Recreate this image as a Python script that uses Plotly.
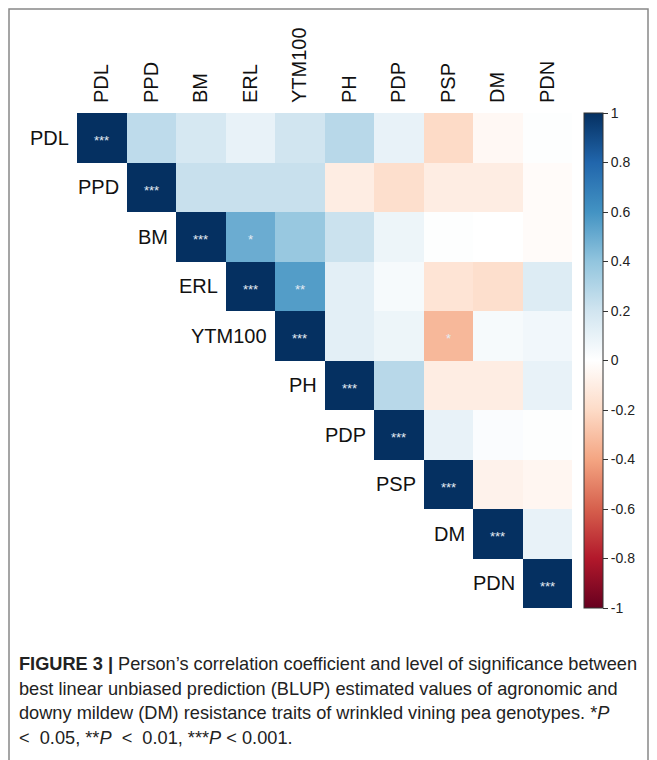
import plotly.graph_objs as go

traits = ['PDL', 'PPD', 'BM', 'ERL', 'YTM100', 'PH', 'PDP', 'PSP', 'DM', 'PDN']

# upper-triangle correlations, row by row (diagonal = 1)
r_pdl = [1, 0.26, 0.18, 0.10, 0.20, 0.28, 0.10, -0.20, -0.04, 0.01]
r_ppd = [1, 0.23, 0.23, 0.23, -0.10, -0.18, -0.10, -0.10, -0.02]
r_bm = [1, 0.50, 0.38, 0.22, 0.08, 0.01, 0.00, -0.02]
r_erl = [1, 0.56, 0.12, 0.04, -0.15, -0.18, 0.15]
r_ytm = [1, 0.12, 0.08, -0.33, 0.04, 0.06]
r_ph = [1, 0.28, -0.10, -0.10, 0.10]
r_pdp = [1, 0.10, 0.02, 0.01]
r_psp = [1, -0.07, -0.05]
r_dm = [1, 0.10]
r_pdn = [1]
rows = [r_pdl, r_ppd, r_bm, r_erl, r_ytm, r_ph, r_pdp, r_psp, r_dm, r_pdn]

# significant cells: (row, col) -> stars
signif = {(2, 3): '*', (3, 4): '**', (4, 7): '*'}
for i in range(len(traits)):
    signif[(i, i)] = '***'

caption_lines = [
    "<b>FIGURE 3 |</b> Person’s correlation coefficient and level of significance between",
    "best linear unbiased prediction (BLUP) estimated values of agronomic and",
    "downy mildew (DM) resistance traits of wrinkled vining pea genotypes. *<i>P</i>",
    "&lt;  0.05, **<i>P</i>  &lt;  0.01, ***<i>P</i> &lt; 0.001.",
]

rdbu = ['#67001F', '#B2182B', '#D6604D', '#F4A582', '#FDDBC7', '#FFFFFF',
        '#D1E5F0', '#92C5DE', '#4393C3', '#2166AC', '#053061']
colorscale = [[k / 10, c] for k, c in enumerate(rdbu)]

n = len(traits)
z = []
for i, r in enumerate(rows):
    z.append([None] * i + r)

fig = go.Figure()
fig.add_trace(
    go.Heatmap(
        z=z,
        x=list(range(n)),
        y=list(range(n)),
        zmin=-1,
        zmax=1,
        colorscale=colorscale,
        hoverinfo='skip',
        colorbar=dict(
            x=(584 - 77) / 495,
            xanchor='left',
            xpad=0,
            ypad=0,
            y=0.5,
            len=1.0,
            thickness=19,
            outlinecolor='#333',
            outlinewidth=1,
            ticks='outside',
            ticklen=5,
            tickcolor='#333',
            tickvals=[-1, -0.8, -0.6, -0.4, -0.2, 0, 0.2, 0.4, 0.6, 0.8, 1],
            ticktext=['-1', '-0.8', '-0.6', '-0.4', '-0.2', '0', '0.2', '0.4', '0.6', '0.8', '1'],
            tickfont=dict(family='Liberation Sans, Arial', size=14, color='#222'),
        ),
    )
)

annotations = []
for (i, j), s in signif.items():
    annotations.append(dict(
        x=j, y=i, xref='x', yref='y', text=s, showarrow=False, yshift=-3,
        font=dict(family='Liberation Sans, Arial', size=13, color='#e4ebf3'),
    ))
for i, t in enumerate(traits):
    annotations.append(dict(
        x=i - 0.5, y=i, xref='x', yref='y', text=t, showarrow=False,
        xanchor='right', xshift=-6,
        font=dict(family='Liberation Sans, Arial', size=20, color='#111'),
    ))

# page pixels -> paper coords (plot area spans 77..572 x, 113..608 y on the page)
px_to_x = lambda px: (px - 77) / 495
px_to_y = lambda py: (608 - py) / 495
for k, line in enumerate(caption_lines):
    annotations.append(dict(
        x=px_to_x(17), y=px_to_y(664 + k * 24.6), xref='paper', yref='paper',
        text=line, showarrow=False, xanchor='left', yanchor='middle', align='left',
        font=dict(family='Liberation Sans, Arial', size=18.2, color='#222'),
    ))

# page body has an 8px margin, so the figure is drawn 8px smaller and offset
fig.update_layout(
    width=649,
    height=752,
    margin=dict(l=69, r=85, t=105, b=152),
    paper_bgcolor='white',
    plot_bgcolor='white',
    xaxis=dict(
        range=[-0.5, n - 0.5],
        side='top',
        tickvals=list(range(n)),
        ticktext=traits,
        tickangle=-90,
        ticklabelstandoff=9,
        tickfont=dict(family='Liberation Sans, Arial', size=20, color='#111'),
        showgrid=False,
        zeroline=False,
        showline=False,
        ticks='',
    ),
    yaxis=dict(
        range=[n - 0.5, -0.5],
        showticklabels=False,
        showgrid=False,
        zeroline=False,
        showline=False,
        ticks='',
    ),
    annotations=annotations,
    shapes=[dict(
        type='rect', xref='paper', yref='paper',
        x0=px_to_x(9), x1=px_to_x(648),
        y0=px_to_y(790), y1=px_to_y(9),
        line=dict(color='#888888', width=1.5),
    )],
)

fig.write_html("out.html")
